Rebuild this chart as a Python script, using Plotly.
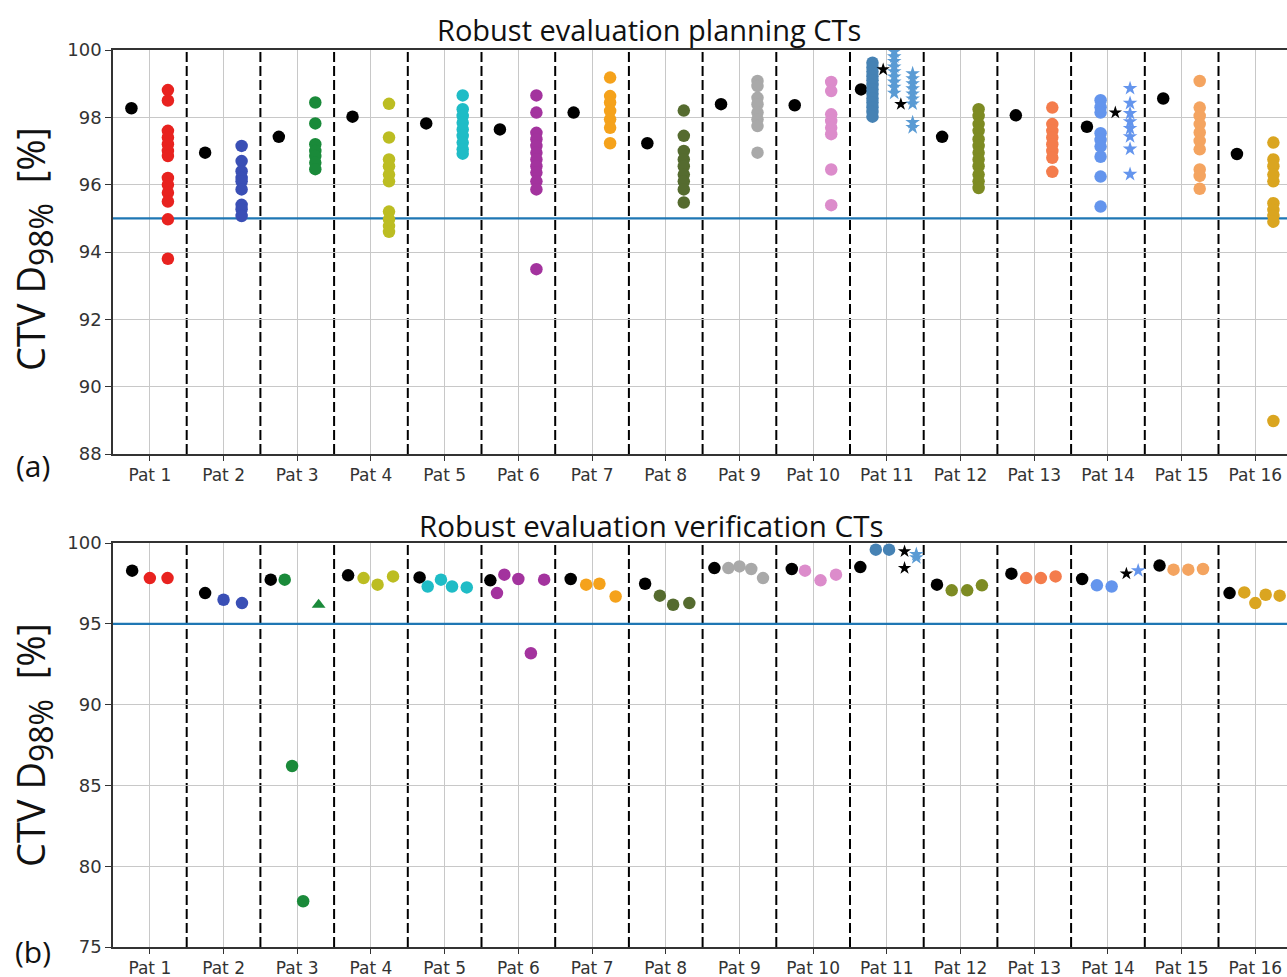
import plotly.graph_objects as go

# ---------------- data ----------------
patients = [f"Pat {i}" for i in range(1, 17)]
colors = ["#e8221f", "#3a4fb5", "#1a8a3a", "#bcbd22", "#1fbcc6", "#a3339e",
          "#f5a21b", "#556b2f", "#a9a9a9", "#dc8ccb", "#4682b4", "#7d8b23",
          "#f47c4c", "#6495ed", "#f4a460", "#daa520"]
threshold = 95

# (a) planning CTs: nominal plan value and robust scenarios
plan_nominal = [98.27, 96.95, 97.42, 98.02, 97.82, 97.64, 98.14, 97.23,
                98.39, 98.36, 98.83, 97.42, 98.06, 97.72, 98.56, 96.91]
plan_scen = [
    [98.81, 98.5, 97.6, 97.4, 97.2, 97.0, 96.85, 96.2, 96.0, 95.76, 95.5, 94.97, 93.8],
    [97.15, 96.7, 96.4, 96.2, 96.1, 95.86, 95.4, 95.27, 95.07],
    [98.44, 97.82, 97.2, 97.0, 96.85, 96.65, 96.46],
    [98.4, 97.4, 96.75, 96.55, 96.3, 96.1, 95.2, 94.97, 94.77, 94.6],
    [98.65, 98.24, 98.04, 97.84, 97.64, 97.45, 97.25, 97.05, 96.92],
    [98.65, 98.14, 97.54, 97.35, 97.15, 96.95, 96.75, 96.55, 96.36, 96.1, 95.86, 93.49],
    [99.18, 98.63, 98.44, 98.19, 97.94, 97.69, 97.23],
    [98.2, 97.45, 97.0, 96.75, 96.55, 96.3, 96.1, 95.86, 95.47],
    [99.08, 98.93, 98.58, 98.39, 98.14, 97.94, 97.74, 96.95],
    [99.05, 98.78, 98.09, 97.89, 97.69, 97.5, 96.45, 95.39],
    [99.62, 99.48, 99.36, 99.22, 99.1, 98.96, 98.83, 98.7, 98.56, 98.44, 98.3, 98.16, 98.02],
    [98.24, 98.04, 97.8, 97.6, 97.35, 97.15, 96.95, 96.75, 96.55, 96.3, 96.1, 95.9],
    [98.29, 97.8, 97.6, 97.4, 97.2, 97.0, 96.8, 96.38],
    [98.51, 98.3, 98.14, 97.53, 97.33, 97.13, 96.83, 96.24, 95.35],
    [99.08, 98.29, 98.04, 97.8, 97.55, 97.3, 97.05, 96.45, 96.26, 95.88],
    [97.25, 96.75, 96.55, 96.3, 96.1, 95.45, 95.25, 95.07, 94.9, 88.98],
]
# star groups (a)
p11_black_stars = [99.42, 98.39]
p11_stars_a = [99.95, 99.8, 99.66, 99.5, 99.36, 99.2, 99.05, 98.9, 98.72]
p11_stars_b = [99.3, 99.15, 99.0, 98.85, 98.7, 98.55, 98.4, 97.85, 97.7]
p14_black_star = [98.14]
p14_stars = [98.86, 98.42, 98.12, 97.87, 97.67, 97.43, 97.06, 96.31]

# (b) verification CTs
ver_nominal = [98.29, 96.9, 97.73, 98.0, 97.87, 97.69, 97.77, 97.48,
               98.45, 98.39, 98.51, 97.42, 98.1, 97.77, 98.6, 96.9]
ver_vals = [
    [97.83, 97.83],
    [96.49, 96.28],
    [97.73, 86.2, 77.83],
    [97.83, 97.42, 97.93],
    [97.31, 97.73, 97.31, 97.25],
    [96.9, 98.04, 97.77, 93.18, 97.73],
    [97.42, 97.48, 96.69],
    [96.74, 96.18, 96.28],
    [98.45, 98.55, 98.39, 97.83],
    [98.29, 97.69, 98.04],
    [99.59, 99.59],
    [97.07, 97.07, 97.38],
    [97.83, 97.83, 97.93],
    [97.38, 97.31],
    [98.35, 98.35, 98.39],
    [96.94, 96.28, 96.8, 96.74],
]
p3_triangle = [96.18]
p11_ver_black_stars = [99.48, 98.45]
p11_ver_stars = [99.3, 99.1]
p14_ver_black_star = [98.1]
p14_ver_stars = [98.29]

# ---------------- positions within each patient slot (layout) ----------------
ver_nom_off = [-0.24, -0.25, -0.36, -0.31, -0.34, -0.38, -0.29, -0.28,
               -0.34, -0.29, -0.36, -0.32, -0.31, -0.35, -0.30, -0.35]
ver_off = [
    [0.0, 0.24], [0.0, 0.25], [-0.17, -0.07, 0.08], [-0.1, 0.09, 0.3],
    [-0.23, -0.05, 0.1, 0.3], [-0.29, -0.19, 0.0, 0.17, 0.35], [-0.08, 0.1, 0.32],
    [-0.08, 0.1, 0.32], [-0.15, 0.0, 0.16, 0.32], [-0.11, 0.1, 0.31],
    [-0.15, 0.03], [-0.12, 0.09, 0.29], [-0.11, 0.09, 0.29], [-0.15, 0.05],
    [-0.11, 0.09, 0.29], [-0.15, 0.0, 0.14, 0.33],
]

# ---------------- layout constants ----------------
W, H = 1287, 977
L, R, T, B = 113, 0, 50, 30
pw, ph = W - L - R, H - T - B
XMAX = 0.5 + pw / 73.7
XRANGE = [0.5, XMAX]

fig = go.Figure()
MS = 12.5


def ax_names(axis):
    return ("x", "y") if axis == 1 else ("x2", "y2")


def add(xs, ys, color, axis, symbol="circle", size=MS):
    xa, ya = ax_names(axis)
    fig.add_trace(go.Scatter(
        x=xs, y=ys, mode="markers", xaxis=xa, yaxis=ya,
        showlegend=False, hoverinfo="skip",
        marker=dict(color=color, size=size, symbol=symbol, line=dict(width=0))))


# threshold line first (above grid, below markers)
for axis in (1, 2):
    xa, ya = ax_names(axis)
    fig.add_trace(go.Scatter(x=XRANGE, y=[threshold, threshold], mode="lines",
                             xaxis=xa, yaxis=ya, showlegend=False, hoverinfo="skip",
                             line=dict(color="#1f77b4", width=2.2), cliponaxis=True))

# panel (a)
for i in range(16):
    k = i + 1
    if k == 11:
        nom_o, sc_o = -0.35, -0.195
    elif k == 14:
        nom_o, sc_o = -0.285, -0.10
    else:
        nom_o, sc_o = -0.25, 0.245
    add([k + nom_o], [plan_nominal[i]], "black", 1)
    add([k + sc_o] * len(plan_scen[i]), plan_scen[i], colors[i], 1)
add([11 - 0.05], [p11_black_stars[0]], "black", 1, "star", 10)
add([11 + 0.19], [p11_black_stars[1]], "black", 1, "star", 10)
add([11 + 0.10] * len(p11_stars_a), p11_stars_a, "#5a9bd4", 1, "star", 11)
add([11 + 0.35] * len(p11_stars_b), p11_stars_b, "#5a9bd4", 1, "star", 11)
add([14 + 0.10], p14_black_star, "black", 1, "star", 10)
add([14 + 0.30] * len(p14_stars), p14_stars, "#6495ed", 1, "star", 11)

# panel (b)
for i in range(16):
    k = i + 1
    add([k + ver_nom_off[i]], [ver_nominal[i]], "black", 2)
    add([k + o for o in ver_off[i]], ver_vals[i], colors[i], 2)
add([3 + 0.29], p3_triangle, colors[2], 2, "triangle-up", 12)
add([11 + 0.24] * 2, p11_ver_black_stars, "black", 2, "star", 10)
add([11 + 0.40] * 2, p11_ver_stars, "#5a9bd4", 2, "star", 11)
add([14 + 0.25], p14_ver_black_star, "black", 2, "star", 10)
add([14 + 0.41], p14_ver_stars, "#6495ed", 2, "star", 11)


def py(px):  # pixel from top -> paper y
    return (H - B - px) / ph


def pxx(px):
    return (px - L) / pw


axis_common = dict(showline=True, linecolor="#333333", linewidth=1.5,
                   ticks="outside", tickcolor="#333333", ticklen=6, tickwidth=1.2,
                   showgrid=True, gridcolor="#c8c8c8", gridwidth=1, zeroline=False,
                   tickfont=dict(family="DejaVu Sans", size=18, color="#333333"))

xax = dict(axis_common, range=XRANGE, tickmode="array",
           tickvals=list(range(1, 17)), ticktext=patients, mirror=True, ticklen=5,
           tickfont=dict(family="DejaVu Sans", size=17, color="#333333"))

fig.update_layout(
    width=W, height=H, margin=dict(l=L, r=R, t=T, b=B),
    paper_bgcolor="white", plot_bgcolor="white",
    xaxis=dict(xax, domain=[0, 1], anchor="y"),
    xaxis2=dict(xax, domain=[0, 1], anchor="y2"),
    yaxis=dict(axis_common, domain=[py(454), 1.0], range=[88, 100],
               tickvals=[88, 90, 92, 94, 96, 98, 100], anchor="x"),
    yaxis2=dict(axis_common, domain=[0, py(543)], range=[75, 100],
                tickvals=[75, 80, 85, 90, 95, 100], anchor="x2"),
)

shapes = []
for ax_x, ax_y in (("x", "y"), ("x2", "y2")):
    for k in range(1, 16):
        shapes.append(dict(type="line", xref=ax_x, yref=f"{ax_y} domain",
                           x0=k + 0.5, x1=k + 0.5, y0=0, y1=1, layer="below",
                           line=dict(color="black", width=2, dash="10px,4px")))
fig.update_layout(shapes=shapes)

ann_font = "Open Sans"
ylabel = 'CTV D<sub><span style="font-size:32px">98%</span></sub>  [%]'
anns = [
    dict(text="Robust evaluation planning CTs", x=pxx(649), y=py(29),
         font=dict(family=ann_font, size=29, color="#111111")),
    dict(text="Robust evaluation verification CTs", x=pxx(651), y=py(525),
         font=dict(family=ann_font, size=29.5, color="#111111")),
    dict(text=ylabel, x=pxx(33), y=py(249), textangle=-90,
         font=dict(family=ann_font, size=38, color="#111111")),
    dict(text=ylabel, x=pxx(33), y=py(745), textangle=-90,
         font=dict(family=ann_font, size=38, color="#111111")),
    dict(text="(a)", x=pxx(33), y=py(466),
         font=dict(family=ann_font, size=30, color="#111111")),
    dict(text="(b)", x=pxx(33), y=py(952),
         font=dict(family=ann_font, size=30, color="#111111")),
]
for a in anns:
    a.update(xref="paper", yref="paper", showarrow=False,
             xanchor="center", yanchor="middle")
fig.update_layout(annotations=anns)

fig.write_html("out.html")
